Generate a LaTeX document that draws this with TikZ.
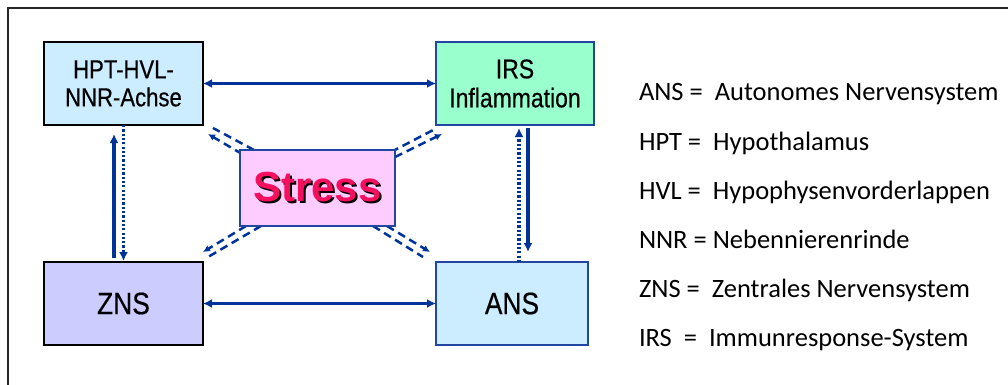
\documentclass[tikz,border=0pt]{standalone}
\usepackage{fontspec}
\setmainfont{Liberation Sans}
\newfontfamily\narrowfont[FakeStretch=0.85,FakeBold=0.4]{Liberation Sans}
\newfontfamily\legendfont{Carlito}
\usetikzlibrary{arrows.meta,calc,backgrounds}

\definecolor{linkblue}{RGB}{0,51,153}
\definecolor{edgeblue}{RGB}{35,70,160}
\definecolor{paleblue}{RGB}{204,236,255}
\definecolor{mint}{RGB}{153,255,204}
\definecolor{lavender}{RGB}{204,204,255}
\definecolor{pinkfill}{RGB}{255,204,255}
\definecolor{stressred}{RGB}{245,15,95}

\begin{document}
\begin{tikzpicture}[x=1pt, y=-1pt,
  every node/.style={inner sep=0pt, outer sep=0pt},
  panel/.style={draw=black, line width=1.5pt, minimum width=159pt,
    minimum height=83pt, align=center, text=black},
  panelblue/.style={panel, draw=edgeblue},
  link/.style={draw=linkblue, line width=3.2pt,
    {Latex[length=9pt,width=9pt]}-{Latex[length=9pt,width=9pt]}},
  onearrow/.style={draw=linkblue, line width=3.2pt, -{Latex[length=9pt,width=9pt]}},
  dotarrow/.style={onearrow, dash pattern=on 2.2pt off 2.1pt},
  pairline/.style={draw=linkblue, line width=2.5pt, dash pattern=on 8pt off 5pt},
  pairarrow/.style={pairline, -{Latex[length=7pt,width=7pt]}},
  legend/.style={anchor=base west, font=\legendfont\fontsize{26.5}{30}\selectfont}
]
\useasboundingbox (0,0) rectangle (1008,385);

% outer frame
\draw[line width=1.5pt, black!85] (8,385) -- (8,8) -- (1008,8);

% boxes
\node[panel, fill=paleblue, font=\narrowfont\fontsize{26}{28}\selectfont]
  (hpt) at (123.5,83.5) {HPT-HVL-\\NNR-Achse};
\node[panelblue, fill=mint, minimum width=158pt, font=\narrowfont\fontsize{27}{29}\selectfont]
  (irs) at (515,83.5) {IRS\\Inflammation};
\node[panel, fill=lavender, font=\narrowfont\fontsize{31}{34}\selectfont]
  (zns) at (123.5,303.5) {ZNS};
\node[panelblue, fill=paleblue, minimum width=152pt, font=\narrowfont\fontsize{31}{34}\selectfont]
  (ans) at (512,303.5) {ANS};
\node[draw=edgeblue, line width=1.5pt, fill=pinkfill, minimum width=155pt,
  minimum height=76pt, text=stressred, font=\bfseries\fontsize{42}{46}\selectfont]
  (stress) at (317.5,188)
  {{\color{black}\rlap{\kern2pt\raisebox{-2pt}{Stress}}}Stress};

% horizontal links
\draw[link] (hpt.east) -- (irs.west);
\draw[link] (zns.east) -- (ans.west);

% left vertical pair
\draw[onearrow, shorten <=4pt, shorten >=9pt]
  ([xshift=-9.5pt]zns.north) -- ([xshift=-9.5pt]hpt.south);
\draw[dotarrow, shorten >=1pt] (hpt.south) -- (zns.north);

% right vertical pair
\coordinate (rd) at ([xshift=4pt]irs.south);
\coordinate (rs) at ([xshift=13pt]irs.south);
\draw[dotarrow, shorten >=3pt] (rd |- ans.north) -- (rd);
\draw[onearrow, shorten <=3pt, shorten >=10pt] (rs) -- (rs |- ans.north);

% dashed pairs between Stress and the four boxes
\begin{scope}[on background layer]
  \draw[pairarrow] ($(stress.north west)+(2,4)$) -- ($(hpt.south east)+(5,9)$);
  \draw[pairline]  ($(stress.north west)+(14,0)$) -- ($(hpt.south east)+(10,3)$);
  \draw[pairline]  ($(stress.north east)+(-4,2)$) -- ($(irs.south west)+(1,3)$);
  \draw[pairarrow] ($(stress.north east)+(0,7)$) -- ($(irs.south west)+(6,9)$);
  \draw[pairarrow] ($(stress.south west)+(6,0)$) -- ($(zns.north east)+(0,-10)$);
  \draw[pairline]  ($(stress.south west)+(21,0)$) -- ($(zns.north east)+(5,-5)$);
  \draw[pairarrow] ($(stress.south east)+(-8,0)$) -- ($(ans.north west)+(-6,-10)$);
  \draw[pairline]  ($(stress.south east)+(-22,0)$) -- ($(ans.north west)+(-13,-5)$);
\end{scope}

% legend
\node[legend] (leg1) at (639,101) {ANS =\ \ Autonomes Nervensystem};
\node[legend] (leg2) at (639,150) {HPT =\ \ Hypothalamus};
\node[legend] (leg3) at (639,199) {HVL =\ \ Hypophysenvorderlappen};
\node[legend] (leg4) at (639,248) {NNR = Nebennierenrinde};
\node[legend] (leg5) at (639,297) {ZNS =\ \ Zentrales Nervensystem};
\node[legend] (leg6) at (639,346) {IRS\ \ =\ \ Immunresponse-System};
\end{tikzpicture}
\end{document}
